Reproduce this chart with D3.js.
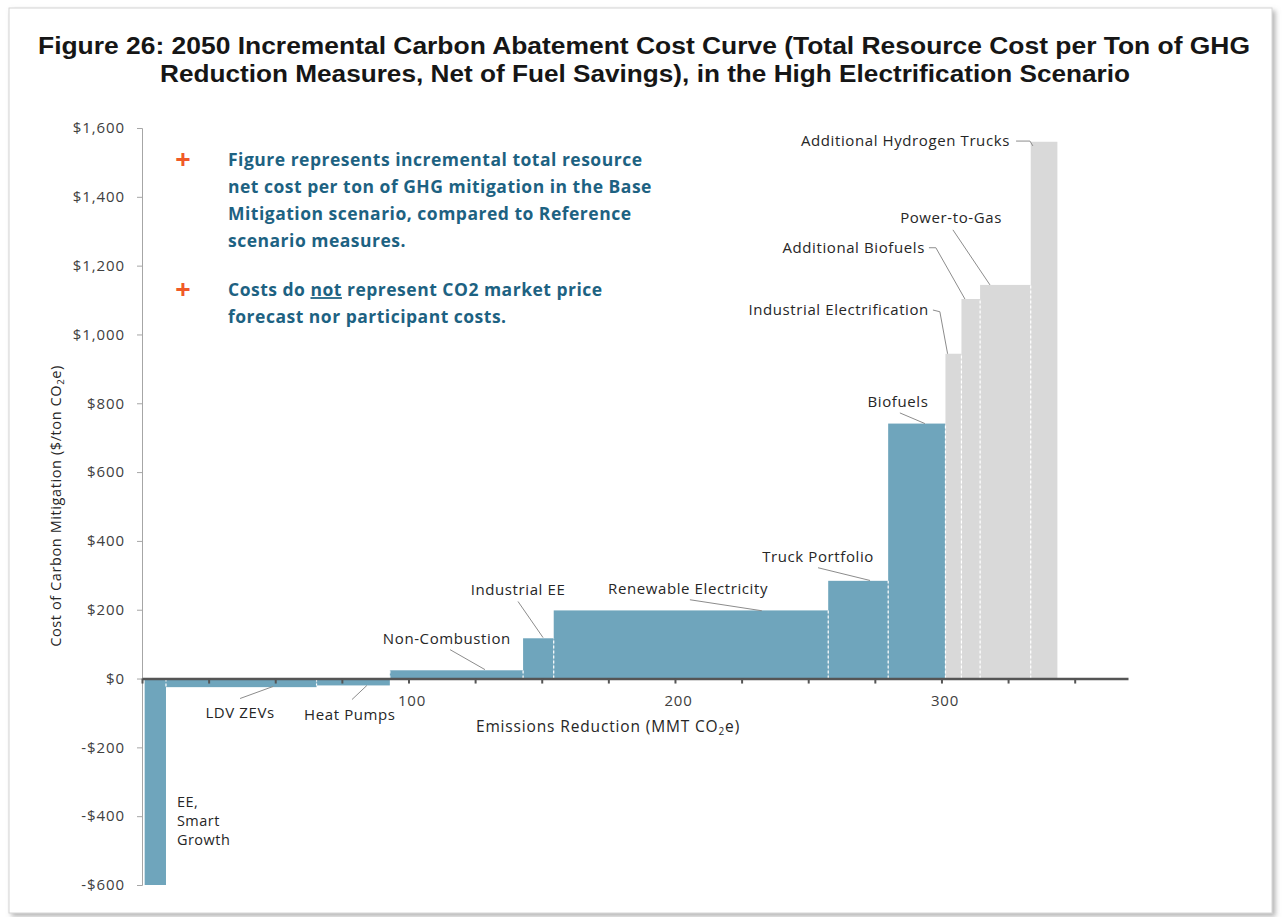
<!DOCTYPE html>
<html>
<head>
<meta charset="utf-8">
<script src="https://cdn.jsdelivr.net/npm/d3@7"></script>
<style>
  body { margin: 0; background: #fff; }
  text { font-family: "Open Sans", Lato, sans-serif; }
</style>
</head>
<body>
<div id="chart"></div>
<script>
// measures in order along the curve
var measures = ["EE, Smart Growth", "LDV ZEVs", "Heat Pumps", "Non-Combustion", "Industrial EE",
  "Renewable Electricity", "Truck Portfolio", "Biofuels", "Industrial Electrification",
  "Additional Biofuels", "Power-to-Gas", "Additional Hydrogen Trucks"];
// width of each block (MMT CO2e reduced)
var reductions = [8, 56.5, 27.5, 50, 11.5, 103, 22.5, 21.5, 6, 7, 19, 10];
// cost of each block ($/ton CO2e)
var costs = [-600, -25, -20, 24, 117, 198, 284, 741, 944, 1103, 1144, 1560];
// which ones are the greyed "additional" measures
var additional = [false, false, false, false, false, false, false, false, true, true, true, true];
var curveStart = 1;

var yTicks = [-600, -400, -200, 0, 200, 400, 600, 800, 1000, 1200, 1400, 1600];
var xTicks = [0, 25, 50, 75, 100, 125, 150, 175, 200, 225, 250, 275, 300, 325, 350];
var xTickLabels = [100, 200, 300];

// callout labels, in data units: text point + leader points
var callouts = [
  {name: "Additional Hydrogen Trucks", at: [325.7, 1562], anchor: "end", leader: [[328, 1562], [333.2, 1562], [334.3, 1548]]},
  {name: "Power-to-Gas", at: [303.6, 1339], anchor: "middle", leader: [[304.3, 1304], [318.2, 1144]]},
  {name: "Additional Biofuels", at: [293.8, 1252], anchor: "end", leader: [[295.3, 1252], [297.9, 1252], [308.8, 1103]]},
  {name: "Industrial Electrification", at: [295.3, 1071], anchor: "end", leader: [[296.8, 1071], [299.4, 1066], [302.3, 944]]},
  {name: "Biofuels", at: [283.7, 804], anchor: "middle", leader: [[284.4, 772], [293.8, 741]]},
  {name: "Truck Portfolio", at: [253.7, 354], anchor: "middle", leader: [[253.7, 322], [273.2, 285]]},
  {name: "Renewable Electricity", at: [204.9, 261], anchor: "middle", leader: [[205.6, 229], [232.6, 197]]},
  {name: "Industrial EE", at: [141.1, 258], anchor: "middle", leader: [[141.1, 224], [150.5, 119]]},
  {name: "Non-Combustion", at: [114.4, 116], anchor: "middle", leader: [[115.6, 84], [128.7, 26]]},
  {name: "LDV ZEVs", at: [36.8, -99], anchor: "middle", leader: [[36.8, -58], [49.2, -23]]},
  {name: "Heat Pumps", at: [78.0, -105], anchor: "middle", leader: [[78.8, -61], [84.4, -20]]}
];
var eeLines = ["EE,", "Smart", "Growth"];

var notes = [
  ["Figure represents incremental total resource", "net cost per ton of GHG mitigation in the Base",
   "Mitigation scenario, compared to Reference", "scenario measures."],
  ["Costs do not represent CO2 market price", "forecast nor participant costs."]
];

var W = 1283, H = 917;
var svg = d3.select("#chart").append("svg")
  .attr("width", W).attr("height", H);

// page frame with a soft shadow
var defs = svg.append("defs");
var f = defs.append("filter").attr("id", "shadow").attr("x", "-2%").attr("y", "-2%")
  .attr("width", "104%").attr("height", "104%");
f.append("feDropShadow").attr("dx", 3).attr("dy", 3).attr("stdDeviation", 2.5)
  .attr("flood-color", "#777").attr("flood-opacity", 0.55);
svg.append("rect").attr("x", 9).attr("y", 8).attr("width", 1263).attr("height", 905)
  .attr("fill", "#fff").attr("stroke", "#d4d4d4").attr("filter", "url(#shadow)");

// title
var title = svg.append("g").attr("font-weight", "bold").attr("font-size", 23.5).attr("fill", "#161616");
title.append("text").attr("x", 38).attr("y", 54)
  .attr("textLength", 1212).attr("lengthAdjust", "spacingAndGlyphs")
  .style("font-family", "'Liberation Sans', Arial, sans-serif")
  .text("Figure 26: 2050 Incremental Carbon Abatement Cost Curve (Total Resource Cost per Ton of GHG");
title.append("text").attr("x", 160).attr("y", 82)
  .attr("textLength", 970).attr("lengthAdjust", "spacingAndGlyphs")
  .style("font-family", "'Liberation Sans', Arial, sans-serif")
  .text("Reduction Measures, Net of Fuel Savings), in the High Electrification Scenario");

var x = d3.scaleLinear().domain([0, 370]).range([142, 1128]);
var y = d3.scaleLinear().domain([-600, 1600]).range([885, 128]);

// bars built from cumulative reductions
var bars = [];
var pos = curveStart;
measures.forEach(function(m, i) {
  bars.push({name: m, x0: pos, x1: pos + reductions[i], cost: costs[i], extra: additional[i]});
  pos += reductions[i];
});

svg.append("g").selectAll("rect")
  .data(bars)
  .enter().append("rect")
    .attr("x", function(d) { return x(d.x0); })
    .attr("width", function(d) { return x(d.x1) - x(d.x0); })
    .attr("y", function(d) { return y(Math.max(0, d.cost)); })
    .attr("height", function(d) { return Math.abs(y(d.cost) - y(0)); })
    .attr("fill", function(d) { return d.extra ? "#d9d9d9" : "#6fa5bc"; });

// dashed white dividers between neighbouring blocks
var seps = bars.slice(1).map(function(d, i) {
  var p = bars[i];
  var h = (p.cost > 0 && d.cost > 0) ? Math.min(p.cost, d.cost) : Math.max(p.cost, d.cost);
  return {x: d.x0, h: h};
});
svg.append("g").selectAll("line")
  .data(seps)
  .enter().append("line")
    .attr("x1", function(d) { return x(d.x); })
    .attr("x2", function(d) { return x(d.x); })
    .attr("y1", y(0))
    .attr("y2", function(d) { return y(d.h); })
    .attr("stroke", "#fff").attr("stroke-width", 1.2)
    .attr("stroke-dasharray", "3,2");

// y axis
var yAxis = svg.append("g").attr("transform", "translate(142,0)")
  .call(d3.axisLeft(y).tickValues(yTicks).tickSize(5).tickPadding(12)
    .tickFormat(function(v) { return (v < 0 ? "-$" : "$") + d3.format(",")(Math.abs(v)); }));
yAxis.select(".domain").attr("stroke", "#a6a6a6");
yAxis.selectAll(".tick line").attr("stroke", "#a6a6a6");
yAxis.selectAll("text").attr("font-size", 15).attr("fill", "#404040")
  .attr("letter-spacing", 0.9)
  .style("font-family", "'Open Sans', sans-serif");

// x axis on the zero line
var xAxis = svg.append("g").attr("transform", "translate(0," + y(0) + ")")
  .call(d3.axisBottom(x).tickValues(xTicks).tickSize(5).tickSizeOuter(0)
    .tickFormat(function(v) { return xTickLabels.indexOf(v) >= 0 ? v : ""; }));
xAxis.select(".domain").attr("stroke", "#555").attr("stroke-width", 2.5);
xAxis.selectAll(".tick line").attr("stroke", "#555").attr("stroke-width", 2);
xAxis.selectAll("text").attr("font-size", 15).attr("fill", "#404040").attr("dy", "1.3em")
  .attr("dx", 3).attr("letter-spacing", 0.8).style("font-family", "'Open Sans', sans-serif");

// axis titles
var yt = svg.append("text")
  .attr("transform", "translate(61,506) rotate(-90)")
  .attr("text-anchor", "middle").attr("font-size", 14.5).attr("letter-spacing", 0.6).attr("fill", "#262626");
yt.append("tspan").text("Cost of Carbon Mitigation ($/ton CO");
yt.append("tspan").attr("font-size", 9.5).attr("dy", 3).text("2");
yt.append("tspan").attr("dy", -3).text("e)");

var xt = svg.append("text")
  .attr("x", 608).attr("y", 732)
  .attr("text-anchor", "middle").attr("font-size", 15.5).attr("letter-spacing", 0.85).attr("fill", "#262626");
xt.append("tspan").text("Emissions Reduction (MMT CO");
xt.append("tspan").attr("font-size", 10).attr("dy", 3).text("2");
xt.append("tspan").attr("dy", -3).text("e)");

// callouts
var line = d3.line().x(function(p) { return x(p[0]); }).y(function(p) { return y(p[1]); });
var co = svg.append("g").selectAll("g").data(callouts).enter().append("g");
co.append("path")
  .attr("d", function(d) { return line(d.leader); })
  .attr("fill", "none").attr("stroke", "#8c8c8c").attr("stroke-width", 1);
co.append("text")
  .attr("x", function(d) { return x(d.at[0]); })
  .attr("y", function(d) { return y(d.at[1]); })
  .attr("dy", "0.35em")
  .attr("text-anchor", function(d) { return d.anchor; })
  .attr("font-size", 15).attr("letter-spacing", 0.6).attr("fill", "#262626")
  .text(function(d) { return d.name; });

svg.append("g").selectAll("text").data(eeLines).enter().append("text")
  .attr("x", x(13.1))
  .attr("y", function(d, i) { return y(-360) + i * 19; })
  .attr("dy", "0.35em")
  .attr("font-size", 14.5).attr("letter-spacing", 0.5).attr("fill", "#262626")
  .text(function(d) { return d; });

// notes box text
var noteG = svg.append("g").attr("font-weight", "bold").attr("font-size", 17.5)
  .attr("letter-spacing", 0.5).attr("fill", "#1d6282");
var noteTop = [160, 290];
notes.forEach(function(lines, k) {
  svg.append("text").attr("x", 183).attr("y", noteTop[k]).attr("dy", "0.35em")
    .attr("text-anchor", "middle").attr("font-size", 27).attr("font-weight", "bold")
    .attr("fill", "#f05a28").text("+");
  lines.forEach(function(t, i) {
    var txt = noteG.append("text").attr("x", 228).attr("y", noteTop[k] + i * 27).attr("dy", "0.35em");
    if (t.indexOf(" not ") >= 0) {
      var parts = t.split(" not ");
      txt.append("tspan").text(parts[0] + " ");
      txt.append("tspan").attr("text-decoration", "underline").text("not");
      txt.append("tspan").text(" " + parts[1]);
    } else {
      txt.text(t);
    }
  });
});
</script>
</body>
</html>
